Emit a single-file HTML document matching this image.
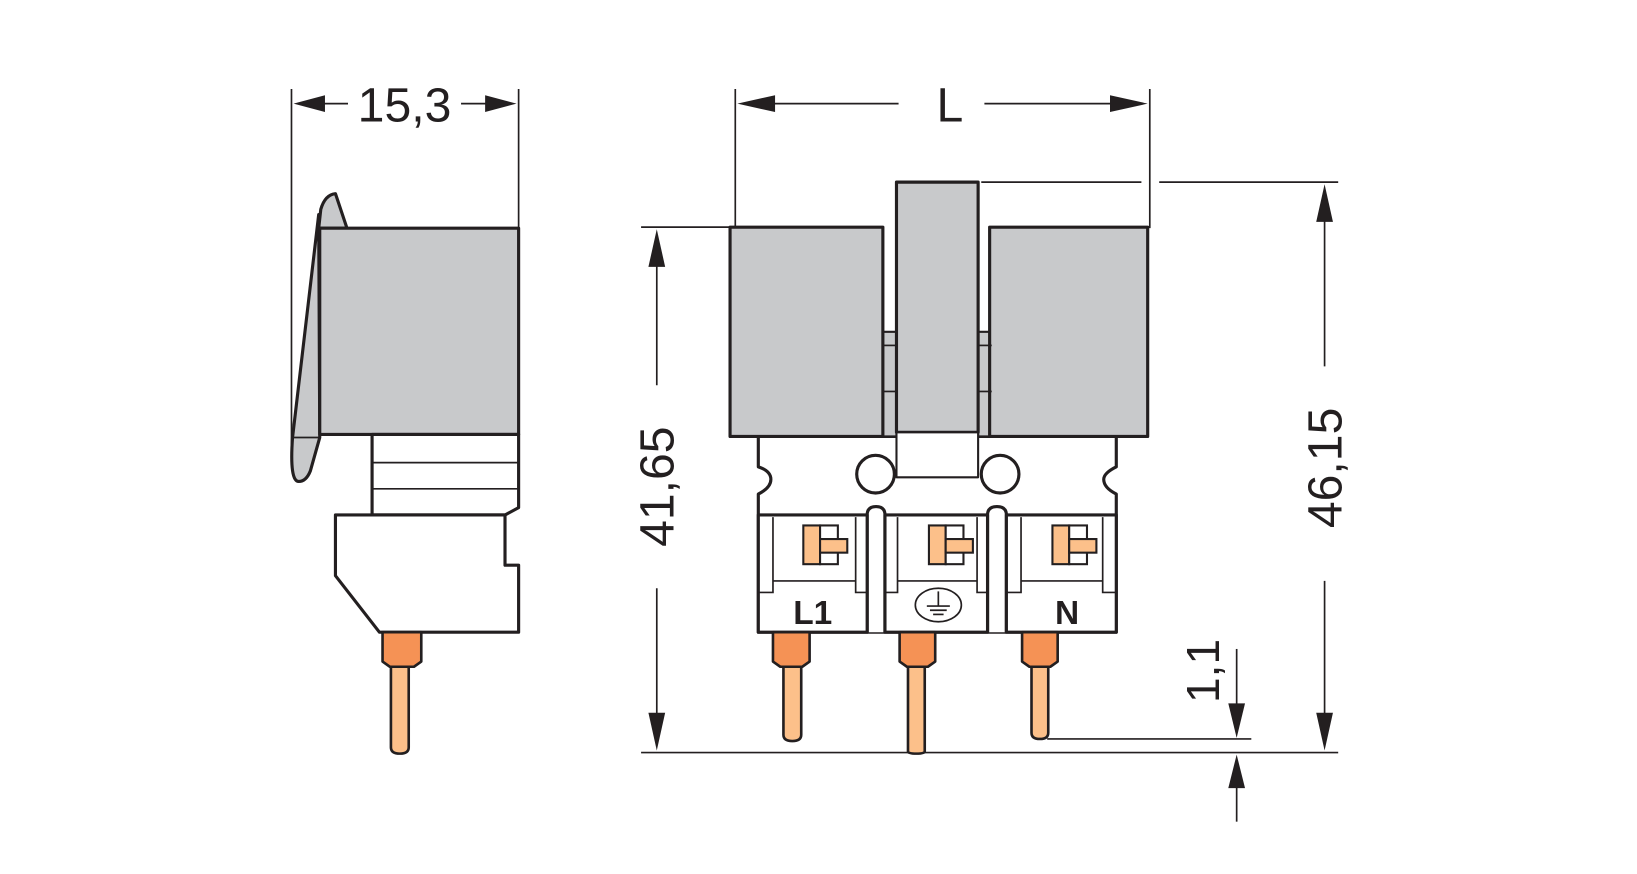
<!DOCTYPE html>
<html><head><meta charset="utf-8"><style>html,body{margin:0;padding:0;background:#fff}svg{display:block}</style></head>
<body>
<svg width="1637" height="874" viewBox="0 0 1563 835" xmlns="http://www.w3.org/2000/svg" font-family="Liberation Sans, sans-serif">
<rect width="1563" height="835" fill="#fff"/>
<g stroke="#231f20" fill="none" stroke-width="1.6">
<line x1="278" y1="85" x2="278" y2="430"/>
<line x1="495" y1="85" x2="495" y2="218"/>
<line x1="305" y1="99" x2="332" y2="99"/>
<line x1="440" y1="99" x2="465" y2="99"/>
<line x1="702" y1="85" x2="702" y2="218"/>
<line x1="1098" y1="85" x2="1098" y2="218"/>
<line x1="735" y1="99" x2="858" y2="99"/>
<line x1="940" y1="99" x2="1065" y2="99"/>
<line x1="937" y1="174" x2="1090" y2="174"/>
<line x1="1107" y1="174" x2="1278" y2="174"/>
<line x1="612" y1="217" x2="700" y2="217"/>
<line x1="612" y1="719" x2="1278" y2="719"/>
<line x1="1000" y1="706" x2="1195" y2="706"/>
<line x1="627" y1="250" x2="627" y2="368"/>
<line x1="627" y1="562" x2="627" y2="685"/>
<line x1="1265" y1="210" x2="1265" y2="350"/>
<line x1="1265" y1="555" x2="1265" y2="685"/>
<line x1="1181" y1="620" x2="1181" y2="675"/>
<line x1="1181" y1="750" x2="1181" y2="785"/>
</g>
<g fill="#231f20">
<polygon points="280,99 310,91 310,107"/>
<polygon points="493,99 463,91 463,107"/>
<polygon points="704,99 740,91 740,107"/>
<polygon points="1096,99 1060,91 1060,107"/>
<polygon points="627,219 619,255 635,255"/>
<polygon points="627,717 619,681 635,681"/>
<polygon points="1265,176 1257,212 1273,212"/>
<polygon points="1265,717 1257,681 1273,681"/>
<polygon points="1181,705 1173,672 1189,672"/>
<polygon points="1181,721 1173,753 1189,753"/>
</g>
<g fill="#231f20" font-size="46">
<text x="386" y="116" text-anchor="middle">15,3</text>
<text x="907" y="116" text-anchor="middle">L</text>
<text transform="translate(643,465) rotate(-90)" text-anchor="middle">41,65</text>
<text transform="translate(1281,447) rotate(-90)" text-anchor="middle">46,15</text>
<text transform="translate(1164,641) rotate(-90)" text-anchor="middle" font-size="44">1,1</text>
</g>

<g stroke="#231f20" stroke-width="3" stroke-linejoin="round">
<path d="M304,218 L306,200 Q310,186 320,185 L331,218 Z" fill="#c8c9cb"/>
<path d="M304,205 L279,418 Q276,460 285,460 Q292,460 296,450 L305,418 Z" fill="#c8c9cb"/>
<rect x="305" y="218" width="190" height="197" fill="#c8c9cb"/>
<path d="M355,415 L495,415 L495,485 L482,492 L355,492 Z" fill="#fff"/>
<path d="M320,492 L482,492 L482,540 L495,540 L495,604 L362,604 L320,550 Z" fill="#fff"/>
<path d="M365,604 L402,604 L402,632 L395,637 L372,637 L365,632 Z" fill="#f59255" stroke-width="2.5"/>
<path d="M373,637 L390,637 L390,714 Q390,720 381.5,720 Q373,720 373,714 Z" fill="#fcc08a" stroke-width="2.5"/>
</g>
<g stroke="#231f20" stroke-width="1.6">
<line x1="305" y1="418" x2="279" y2="418"/>
<line x1="355" y1="442" x2="495" y2="442"/>
<line x1="355" y1="467" x2="495" y2="467"/>
</g>

<g stroke="#231f20" stroke-width="3" stroke-linejoin="round">
<path d="M724,417 L1066,417 L1066,446 Q1054,452 1054,458 Q1054,466 1066,472 L1066,604 L724,604 L724,472 Q736,466 736,458 Q736,450 724,446 Z" fill="#fff"/>
<rect x="843" y="317" width="13" height="100" fill="#c8c9cb" stroke-width="2"/>
<rect x="934" y="317" width="13" height="100" fill="#c8c9cb" stroke-width="2"/>
<rect x="697" y="217" width="146" height="200" fill="#c8c9cb"/>
<rect x="945" y="217" width="151" height="200" fill="#c8c9cb"/>
<rect x="856" y="174" width="78" height="239" fill="#c8c9cb"/>
<rect x="856" y="413" width="78" height="43" fill="#fff" stroke-width="2"/>
<circle cx="836" cy="453" r="18" fill="#fff"/>
<circle cx="955" cy="453" r="18" fill="#fff"/>
</g>
<g stroke="#231f20" stroke-width="1.6">
<line x1="843" y1="330" x2="856" y2="330"/><line x1="843" y1="374" x2="856" y2="374"/>
<line x1="934" y1="330" x2="947" y2="330"/><line x1="934" y1="374" x2="947" y2="374"/>
</g>

<g stroke="#231f20" stroke-width="3" stroke-linejoin="round" fill="#fff">
<path d="M828,604 L828,492 Q828,484 836.5,484 Q845,484 845,492 L845,604" />
<path d="M943,604 L943,492 Q943,484 952,484 Q961,484 961,492 L961,604" />
<rect x="724" y="492" width="104" height="112"/>
<rect x="845" y="492" width="98" height="112"/>
<rect x="961" y="492" width="105" height="112"/>
</g>
<g stroke="#231f20" stroke-width="1.6" fill="none">
<path d="M724,566 L738,566 L738,494 M738,555 L817,555 M817,494 L817,566 L828,566"/>
<path d="M845,566 L857,566 L857,494 M857,555 L933,555 M933,494 L933,566 L943,566"/>
<path d="M961,566 L975,566 L975,494 M975,555 L1053,555 M1053,494 L1053,566 L1066,566"/>
</g>
<g stroke="#231f20" stroke-width="2">
<g>
<rect x="767" y="502" width="16" height="37" fill="#fcc08a"/><rect x="783" y="502" width="17" height="37" fill="#fff"/><rect x="783" y="515" width="26" height="13" fill="#fcc08a"/>
</g>
<g transform="translate(120,0)">
<rect x="767" y="502" width="16" height="37" fill="#fcc08a"/><rect x="783" y="502" width="17" height="37" fill="#fff"/><rect x="783" y="515" width="26" height="13" fill="#fcc08a"/>
</g>
<g transform="translate(238,0)">
<rect x="767" y="502" width="16" height="37" fill="#fcc08a"/><rect x="783" y="502" width="17" height="37" fill="#fff"/><rect x="783" y="515" width="26" height="13" fill="#fcc08a"/>
</g>
</g>
<g fill="#231f20" font-weight="bold" font-size="32" text-anchor="middle">
<text x="776" y="596">L1</text>
<text x="1019" y="596">N</text>
</g>
<g stroke="#231f20" stroke-width="1.6" fill="none">
<ellipse cx="896" cy="578" rx="22" ry="16"/>
<line x1="896" y1="565" x2="896" y2="579"/>
<line x1="885" y1="579" x2="907" y2="579"/>
<line x1="888" y1="583" x2="904" y2="583"/>
<line x1="891" y1="587" x2="901" y2="587"/>
</g>
<g stroke="#231f20" stroke-width="2.5" stroke-linejoin="round">
<path d="M738,604 L773,604 L773,632 L766,637 L745,637 L738,632 Z" fill="#f59255"/>
<path d="M748,637 L765,637 L765,702 Q765,708 756.5,708 Q748,708 748,702 Z" fill="#fcc08a"/>
<path d="M859,604 L893,604 L893,632 L886,637 L866,637 L859,632 Z" fill="#f59255"/>
<path d="M867,637 L883,637 L883,718 Q883,720 875,720 Q867,720 867,718 Z" fill="#fcc08a"/>
<path d="M976,604 L1010,604 L1010,632 L1003,637 L983,637 L976,632 Z" fill="#f59255"/>
<path d="M985,637 L1001,637 L1001,700 Q1001,706 993,706 Q985,706 985,700 Z" fill="#fcc08a"/>
</g>
</svg>
</body></html>
